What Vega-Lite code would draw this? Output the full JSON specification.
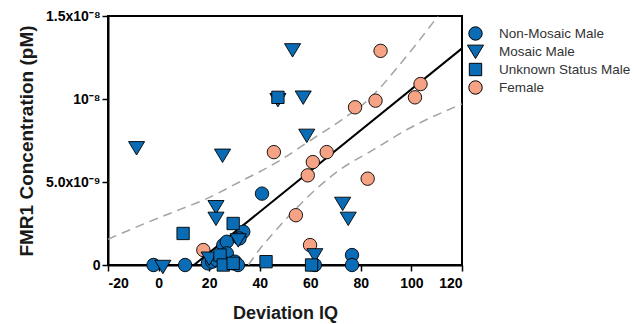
{
  "$schema": "https://vega.github.io/schema/vega-lite/v6.json",
  "autosize": {"type": "none"},
  "width": 354,
  "height": 249,
  "padding": {"left": 108, "top": 16, "right": 172, "bottom": 59},
  "background": "white",
  "config": {
    "font": "Liberation Sans",
    "view": {"stroke": "black", "strokeWidth": 2},
    "axis": {"grid": false, "domainColor": "black", "domainWidth": 2, "tickColor": "black", "tickWidth": 1.5, "labelColor": "black", "titleColor": "#1a1a1a", "labelFont": "Liberation Sans", "titleFont": "Liberation Sans"}
  },
  "datasets": {
    "bands": [
      {"band": "upper", "iq": -20, "conc": 1.55e-9},
      {"band": "upper", "iq": -7, "conc": 2.4e-9},
      {"band": "upper", "iq": 8.5, "conc": 3.35e-9},
      {"band": "upper", "iq": 17.6, "conc": 3.9e-9},
      {"band": "upper", "iq": 32, "conc": 5.0e-9},
      {"band": "upper", "iq": 48, "conc": 6.3e-9},
      {"band": "upper", "iq": 60, "conc": 7.5e-9},
      {"band": "upper", "iq": 72, "conc": 8.7e-9},
      {"band": "upper", "iq": 84, "conc": 10.1e-9},
      {"band": "upper", "iq": 95, "conc": 12.0e-9},
      {"band": "upper", "iq": 106.5, "conc": 14.2e-9},
      {"band": "upper", "iq": 110.5, "conc": 15.0e-9},
      {"band": "lower", "iq": 35.5, "conc": 0},
      {"band": "lower", "iq": 40, "conc": 0.95e-9},
      {"band": "lower", "iq": 45, "conc": 1.85e-9},
      {"band": "lower", "iq": 50, "conc": 2.7e-9},
      {"band": "lower", "iq": 55, "conc": 3.5e-9},
      {"band": "lower", "iq": 64, "conc": 4.8e-9},
      {"band": "lower", "iq": 70, "conc": 5.55e-9},
      {"band": "lower", "iq": 85, "conc": 6.95e-9},
      {"band": "lower", "iq": 100, "conc": 8.3e-9},
      {"band": "lower", "iq": 120, "conc": 9.7e-9}
    ],
    "fit": [
      {"iq": 14, "conc": 0},
      {"iq": 120, "conc": 13.05e-9}
    ],
    "points": [
      {"group": "Female", "iq": 17.7, "conc": 0.9e-9},
      {"group": "Female", "iq": 45.6, "conc": 6.8e-9},
      {"group": "Female", "iq": 61, "conc": 6.2e-9},
      {"group": "Female", "iq": 66.5, "conc": 6.8e-9},
      {"group": "Female", "iq": 59, "conc": 5.4e-9},
      {"group": "Female", "iq": 54.3, "conc": 3.0e-9},
      {"group": "Female", "iq": 59.9, "conc": 1.2e-9},
      {"group": "Female", "iq": 77.7, "conc": 9.5e-9},
      {"group": "Female", "iq": 87.8, "conc": 12.9e-9},
      {"group": "Female", "iq": 85.8, "conc": 9.9e-9},
      {"group": "Female", "iq": 101.4, "conc": 10.1e-9},
      {"group": "Female", "iq": 103.6, "conc": 10.9e-9},
      {"group": "Female", "iq": 82.7, "conc": 5.2e-9},
      {"group": "Non-Mosaic Male", "iq": -2, "conc": 0},
      {"group": "Non-Mosaic Male", "iq": 10.5, "conc": 0},
      {"group": "Non-Mosaic Male", "iq": 19.5, "conc": 0.1e-9},
      {"group": "Non-Mosaic Male", "iq": 21.2, "conc": 0.2e-9},
      {"group": "Non-Mosaic Male", "iq": 23, "conc": 0.3e-9},
      {"group": "Non-Mosaic Male", "iq": 25.6, "conc": 1.2e-9},
      {"group": "Non-Mosaic Male", "iq": 27, "conc": 1.4e-9},
      {"group": "Non-Mosaic Male", "iq": 27, "conc": 0.7e-9},
      {"group": "Non-Mosaic Male", "iq": 29.4, "conc": 0.1e-9},
      {"group": "Non-Mosaic Male", "iq": 30.2, "conc": 0.2e-9},
      {"group": "Non-Mosaic Male", "iq": 31.4, "conc": 0},
      {"group": "Non-Mosaic Male", "iq": 33.5, "conc": 2.0e-9},
      {"group": "Non-Mosaic Male", "iq": 32, "conc": 1.6e-9},
      {"group": "Non-Mosaic Male", "iq": 40.9, "conc": 4.3e-9},
      {"group": "Non-Mosaic Male", "iq": 61.8, "conc": 0},
      {"group": "Non-Mosaic Male", "iq": 76.5, "conc": 0.6e-9},
      {"group": "Non-Mosaic Male", "iq": 76.5, "conc": 0},
      {"group": "Mosaic Male", "iq": -8.7, "conc": 7.05e-9},
      {"group": "Mosaic Male", "iq": 1.7, "conc": -0.1e-9},
      {"group": "Mosaic Male", "iq": 25.3, "conc": 6.6e-9},
      {"group": "Mosaic Male", "iq": 22.7, "conc": 3.5e-9},
      {"group": "Mosaic Male", "iq": 22.7, "conc": 2.8e-9},
      {"group": "Mosaic Male", "iq": 31.5, "conc": 1.5e-9},
      {"group": "Mosaic Male", "iq": 20, "conc": 0.4e-9},
      {"group": "Mosaic Male", "iq": 53, "conc": 12.95e-9},
      {"group": "Mosaic Male", "iq": 57.2, "conc": 10.1e-9},
      {"group": "Mosaic Male", "iq": 47.2, "conc": 9.95e-9},
      {"group": "Mosaic Male", "iq": 58.6, "conc": 7.8e-9},
      {"group": "Mosaic Male", "iq": 72.8, "conc": 3.7e-9},
      {"group": "Mosaic Male", "iq": 75, "conc": 2.8e-9},
      {"group": "Mosaic Male", "iq": 61.8, "conc": 0.6e-9},
      {"group": "Unknown Status Male", "iq": 9.7, "conc": 1.9e-9},
      {"group": "Unknown Status Male", "iq": 29.5, "conc": 2.5e-9},
      {"group": "Unknown Status Male", "iq": 24.3, "conc": 0.6e-9},
      {"group": "Unknown Status Male", "iq": 25.6, "conc": 0},
      {"group": "Unknown Status Male", "iq": 29.5, "conc": 0.1e-9},
      {"group": "Unknown Status Male", "iq": 42.5, "conc": 0.2e-9},
      {"group": "Unknown Status Male", "iq": 60.5, "conc": 0},
      {"group": "Unknown Status Male", "iq": 47.2, "conc": 10.1e-9}
    ]
  },
  "layer": [
    {
      "data": {"name": "bands"},
      "mark": {"type": "line", "color": "#a3a3a3", "strokeWidth": 1.5, "strokeDash": [9, 6], "interpolate": "monotone", "clip": true},
      "encoding": {
        "x": {"field": "iq", "type": "quantitative"},
        "y": {"field": "conc", "type": "quantitative"},
        "detail": {"field": "band"}
      }
    },
    {
      "data": {"name": "fit"},
      "mark": {"type": "line", "color": "black", "strokeWidth": 2, "clip": true},
      "encoding": {
        "x": {"field": "iq", "type": "quantitative"},
        "y": {"field": "conc", "type": "quantitative"}
      }
    },
    {
      "data": {"name": "points"},
      "mark": {"type": "point", "filled": true, "opacity": 1, "stroke": "black", "strokeWidth": 0.9, "size": 180},
      "encoding": {
        "x": {
          "field": "iq", "type": "quantitative",
          "scale": {"domain": [-20, 120], "nice": false, "zero": false},
          "axis": {"values": [-20, 0, 20, 40, 60, 80, 100, 120], "labelExpr": "datum.value + ''", "tickSize": 6, "labelPadding": 5, "labelFontSize": 14, "labelFontWeight": "bold", "title": "Deviation IQ", "titleFontSize": 18, "titleFontWeight": "bold", "titlePadding": 14}
        },
        "y": {
          "field": "conc", "type": "quantitative",
          "scale": {"domain": [0, 1.5e-8], "nice": false},
          "axis": {"values": [0, 5e-9, 1e-8, 1.5e-8], "tickSize": 6, "labelPadding": 2, "labelFontSize": 14, "labelFontWeight": "bold", "labelExpr": "datum.value < 1e-9 ? '0' : datum.value < 6e-9 ? '5.0x10⁻⁹' : datum.value < 1.2e-8 ? '10⁻⁸' : '1.5x10⁻⁸'", "title": "FMR1 Concentration (pM)", "titleFontSize": 19, "titleFontWeight": "bold", "titlePadding": 9}
        },
        "color": {
          "field": "group", "type": "nominal",
          "scale": {"domain": ["Non-Mosaic Male", "Mosaic Male", "Unknown Status Male", "Female"], "range": ["#0a6cb5", "#0a6cb5", "#0a6cb5", "#f5a384"]},
          "legend": {"title": null, "orient": "none", "legendX": 360, "legendY": 10, "labelFontSize": 13.5, "labelColor": "#333333", "labelOffset": 16, "rowPadding": 0, "symbolStrokeColor": "black", "symbolStrokeWidth": 1, "symbolSize": 180}
        },
        "shape": {
          "field": "group", "type": "nominal",
          "scale": {"domain": ["Non-Mosaic Male", "Mosaic Male", "Unknown Status Male", "Female"], "range": ["circle", "M-1.2,-0.95L1.2,-0.95L0,1.05Z", "M-0.92,-0.92L0.92,-0.92L0.92,0.92L-0.92,0.92Z", "circle"]}
        }
      }
    }
  ]
}
